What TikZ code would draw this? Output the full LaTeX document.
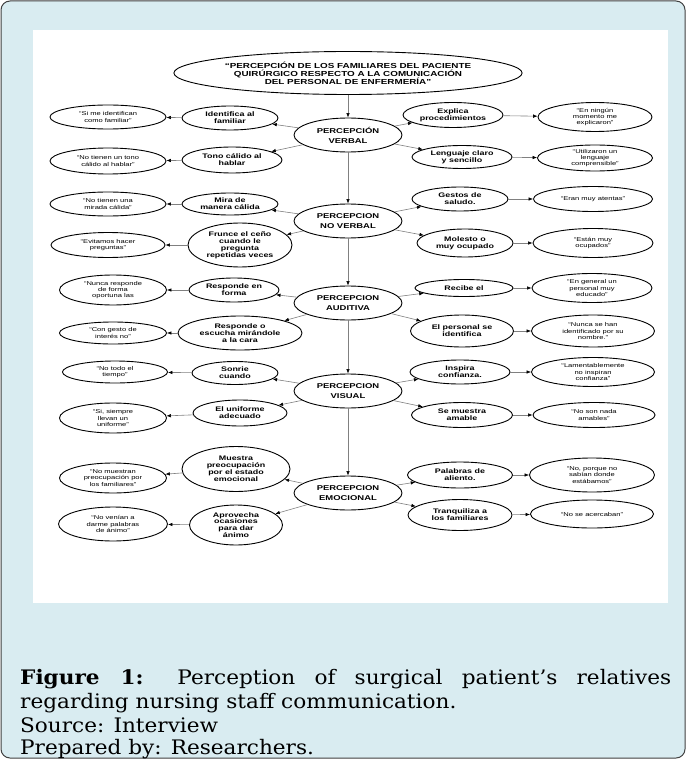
\documentclass[tikz,border=0pt]{standalone}
\usepackage{fontspec}
\usetikzlibrary{positioning, arrows.meta, shapes.geometric}
\newfontfamily\diagfont[FakeStretch=1.35]{Liberation Sans}
\newfontfamily\capfont[FakeStretch=1.08]{DejaVu Serif}
\definecolor{panelblue}{RGB}{217,236,241}

\begin{document}
\begin{tikzpicture}[
		x=1pt, y=-1pt,
		core/.style={ellipse, draw, line width=0.9pt, fill=white, inner sep=0pt, align=center, minimum width=108pt, minimum height=34pt, font=\diagfont\bfseries\fontsize{7}{10}\selectfont},
		task/.style={ellipse, draw, line width=0.9pt, fill=white, inner sep=0pt, align=center, minimum width=98pt, minimum height=25pt, font=\diagfont\bfseries\fontsize{6.6}{6.9}\selectfont},
		said/.style={ellipse, draw, line width=0.9pt, fill=white, inner sep=0pt, align=center, minimum width=116pt, minimum height=26pt, font=\diagfont\fontsize{5.6}{6.2}\selectfont},
		arr/.style={draw=gray, line width=0.6pt, -{Latex[length=4.5pt, width=3.5pt, color=black]}},
		capline/.style={inner sep=0pt, anchor=base west, font=\capfont\fontsize{20}{24}\selectfont}
	]
	\useasboundingbox (0,0) rectangle (686,759);

	% Marco y panel
	\draw[fill=panelblue, draw=black!75, line width=1pt, rounded corners=9pt] (1,1) rectangle (685,758);
	\fill[white] (33,30) rectangle (668,603);

	% Nodo raíz
	\node[core, minimum width=342pt, minimum height=43pt, font=\diagfont\bfseries\fontsize{7.3}{8}\selectfont] (root) at (348,73)
		{“PERCEPCIÓN DE LOS FAMILIARES DEL PACIENTE\\QUIRÚRGICO RESPECTO A LA COMUNICACIÓN\\DEL PERSONAL DE ENFERMERÍA”};

	% Percepciones (columna central)
	\node[core] (p1) at (348,135) {PERCEPCIÓN\\VERBAL};
	\node[core] (p2) at (348,221) {PERCEPCION\\NO VERBAL};
	\node[core] (p3) at (348,303) {PERCEPCION\\AUDITIVA};
	\node[core] (p4) at (348,391) {PERCEPCION\\VISUAL};
	\node[core] (p5) at (348,493) {PERCEPCION\\EMOCIONAL};

	% Percepción verbal
	\node[task, minimum width=96pt, minimum height=24pt] (p1a) at (230,118) {Identifica al\\familiar};
	\node[task, minimum width=100pt, minimum height=26pt] (p1b) at (232,160) {Tono cálido al\\hablar};
	\node[task, minimum width=100pt] (p1c) at (453,115) {Explica\\procedimientos};
	\node[task, minimum width=100pt, minimum height=23pt] (p1d) at (462,157) {Lenguaje claro\\y sencillo};
	\node[said, minimum height=24pt] (q1a) at (108,117) {“Si me identifican\\como familiar”};
	\node[said] (q1b) at (108,161) {“No tienen un tono\\cálido al hablar”};
	\node[said, minimum width=114pt, minimum height=29pt] (q1c) at (595,117) {“En ningún\\momento me\\explicaron”};
	\node[said, minimum width=115pt] (q1d) at (595,158) {“Utilizaron un\\lenguaje\\comprensible”};

	% Percepción no verbal
	\node[task, minimum width=96pt, minimum height=22pt] (p2a) at (230,204) {Mira de\\manera cálida};
	\node[task, minimum width=104pt, minimum height=44pt] (p2b) at (240,245) {Frunce el ceño\\cuando le\\pregunta\\repetidas veces};
	\node[task, minimum width=96pt, minimum height=24pt] (p2c) at (460,199) {Gestos de\\saludo.};
	\node[task, minimum width=96pt, minimum height=28pt] (p2d) at (465,243) {Molesto o\\muy ocupado};
	\node[said, minimum height=24pt] (q2a) at (108,204) {“No tienen una\\mirada cálida”};
	\node[said, minimum width=114pt, minimum height=25pt] (q2b) at (108,245) {“Evitamos hacer\\preguntas”};
	\node[said, minimum width=119pt, minimum height=25pt] (q2c) at (593,199) {“Eran muy atentas”};
	\node[said, minimum width=120pt, minimum height=29pt] (q2d) at (593,243) {“Están muy\\ocupados”};

	% Percepción auditiva
	\node[task, minimum width=90pt, minimum height=24pt] (p3a) at (234,290) {Responde en\\forma};
	\node[task, minimum width=124pt, minimum height=34pt] (p3b) at (240,333) {Responde o\\escucha mirándole\\a la cara};
	\node[task, minimum width=98pt, minimum height=17pt] (p3c) at (464,288) {Recibe el};
	\node[task, minimum width=103pt, minimum height=32pt] (p3d) at (462,331) {El personal se\\identifica};
	\node[said, minimum width=107pt, minimum height=30pt] (q3a) at (113,290) {“Nunca responde\\de forma\\oportuna las};
	\node[said, minimum width=107pt, minimum height=22pt] (q3b) at (113,333) {“Con gesto de\\interés no”};
	\node[said, minimum width=120pt, minimum height=29pt] (q3c) at (592,288) {“En general un\\personal muy\\educado”};
	\node[said, minimum width=123pt, minimum height=32pt] (q3d) at (593,331) {“Nunca se han\\identificado por su\\nombre.”};

	% Percepción visual
	\node[task, minimum width=86pt, minimum height=23pt] (p4a) at (235,373) {Sonrie\\cuando};
	\node[task, minimum width=94pt, minimum height=26pt] (p4b) at (240,413) {El uniforme\\adecuado};
	\node[task, minimum width=100pt, minimum height=24pt] (p4c) at (460,372) {Inspira\\confianza.};
	\node[task, minimum width=101pt] (p4d) at (462,415) {Se muestra\\amable};
	\node[said, minimum width=105pt, minimum height=22pt] (q4a) at (115,372) {“No todo el\\tiempo”};
	\node[said, minimum width=107pt, minimum height=30pt] (q4b) at (113,418) {“Si, siempre\\llevan un\\uniforme”};
	\node[said, minimum width=123pt, minimum height=29pt] (q4c) at (593,372) {“Lamentablemente\\no inspiran\\confianza”};
	\node[said, minimum width=122pt, minimum height=25pt] (q4d) at (594,415) {“No son nada\\amables”};

	% Percepción emocional
	\node[task, minimum width=108pt, minimum height=45pt] (p5a) at (236,469) {Muestra\\preocupación\\por el estado\\emocional};
	\node[task, minimum width=93pt, minimum height=40pt] (p5b) at (236,525) {Aprovecha\\ocasiones\\para dar\\ánimo};
	\node[task, minimum width=105pt, minimum height=26pt] (p5c) at (460,475) {Palabras de\\aliento.};
	\node[task, minimum width=104pt, minimum height=31pt] (p5d) at (460,515) {Tranquiliza a\\los familiares};
	\node[said, minimum width=107pt, minimum height=30pt] (q5a) at (113,478) {“No muestran\\preocupación por\\los familiares”};
	\node[said, minimum width=109pt, minimum height=34pt] (q5b) at (113,524) {“No venían a\\darme palabras\\de ánimo”};
	\node[said, minimum width=125pt, minimum height=34pt] (q5c) at (592,475) {“No, porque no\\sabían donde\\estábamos”};
	\node[said, minimum width=123pt, minimum height=28pt] (q5d) at (592,514) {“No se acercaban”};

	% Flechas
	\foreach \a/\b in {root/p1, p1/p2, p2/p3, p3/p4, p4/p5}
		\draw[arr] (\a) -- (\b);
	\foreach \i in {1,...,5} {
			\foreach \s in {a,b,c,d} {
					\draw[arr] (p\i) -- (p\i\s);
					\draw[arr] (p\i\s) -- (q\i\s);
				}
		}

	% Pie de figura
	\node[capline] (cap1) at (20,684) {\makebox[651pt][s]{\textbf{Figure 1:} Perception of surgical patient’s relatives}};
	\node[capline] (cap2) at (20,708) {regarding nursing staff communication.};
	\node[capline] (cap3) at (20,732) {Source: Interview};
	\node[capline] (cap4) at (20,754) {Prepared by: Researchers.};

\end{tikzpicture}
\end{document}
